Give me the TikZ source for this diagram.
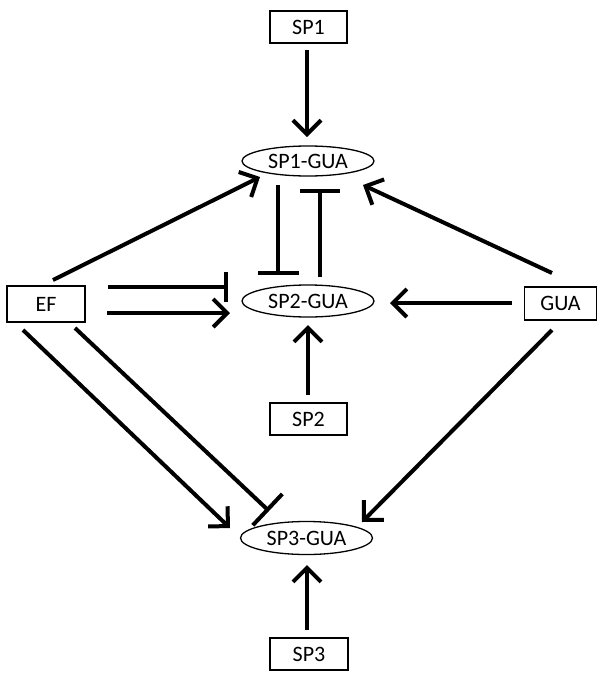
\documentclass[tikz,border=0pt]{standalone}
\usepackage{fontspec}
\setmainfont{Carlito}
\usetikzlibrary{arrows.meta,shapes.geometric}
\begin{document}
\begin{tikzpicture}[x=1pt,y=1pt,
  box/.style={draw,line width=1.6pt,minimum width=77pt,minimum height=32pt,inner sep=0pt,font=\fontsize{22}{22}\selectfont},
  oval/.style={draw,ellipse,line width=1.3pt,minimum width=132pt,minimum height=30pt,inner sep=0pt,font=\fontsize{22}{22}\selectfont},
  conn/.style={line width=4pt},
  arr/.style={conn,-{Straight Barb[length=14pt,width=28pt]}},
  inh/.style={conn,-{Bar[width=#1]}},
  inh/.default=40pt
]
\useasboundingbox (0,0) rectangle (598,-673);
\node[box] (SP1) at (308.5,-27) {SP1};
\node[oval] (SP1GUA) at (308,-161) {\raisebox{-4pt}{SP1-GUA}};
\node[box,minimum width=78pt,minimum height=36pt] (EF) at (46,-304) {EF};
\node[oval,minimum height=32pt] (SP2GUA) at (308,-301) {\raisebox{-4pt}{SP2-GUA}};
\node[box,minimum width=72pt,minimum height=33pt] (GUA) at (560.5,-303.5) {GUA};
\node[box] (SP2) at (308.5,-419) {SP2};
\node[oval,minimum height=33pt] (SP3GUA) at (306.5,-538) {\raisebox{-4pt}{SP3-GUA}};
\node[box,minimum width=78pt] (SP3) at (309,-654) {SP3};

% vertical activations
\draw[arr] ([shift={(-1.5,-23)}]SP1.center) -- ([shift={(-1,24)}]SP1GUA.center);
\draw[arr] ([shift={(-0.5,24)}]SP2.center) -- ([shift={(0,-24)}]SP2GUA.center);
\draw[arr] ([shift={(-2,24)}]SP3.center) -- ([shift={(0.5,-27)}]SP3GUA.center);

% EF and GUA to SP1-GUA
\draw[arr] ([shift={(7,24)}]EF.center) -- ([shift={(-48,-16)}]SP1GUA.center);
\draw[arr] ([shift={(-8.5,30.5)}]GUA.center) -- ([shift={(55,-24)}]SP1GUA.center);

% mutual inhibition SP1-GUA / SP2-GUA
\draw[inh=41pt] ([shift={(-30,-24)}]SP1GUA.center) -- ([shift={(-30,26)}]SP2GUA.center);
\draw[inh=40pt] ([shift={(12,24)}]SP2GUA.center) -- ([shift={(12,-28)}]SP1GUA.center);

% EF to SP2-GUA
\draw[inh=30pt] ([shift={(62,17)}]EF.center) -- ([shift={(-80,14)}]SP2GUA.center);
\draw[arr] ([shift={(61,-9)}]EF.center) -- ([shift={(-78,-12)}]SP2GUA.center);

% GUA to SP2-GUA
\draw[arr] ([shift={(-48.5,0.5)}]GUA.center) -- ([shift={(82,-2)}]SP2GUA.center);

% to SP3-GUA
\draw[arr] ([shift={(-23,-26)}]EF.center) -- ([shift={(-76.5,10)}]SP3GUA.center);
\draw[inh=43pt] ([shift={(29,-24)}]EF.center) -- ([shift={(-37.5,27)}]SP3GUA.center);
\draw[arr] ([shift={(-8.5,-26.5)}]GUA.center) -- ([shift={(55.5,16)}]SP3GUA.center);
\end{tikzpicture}
\end{document}
